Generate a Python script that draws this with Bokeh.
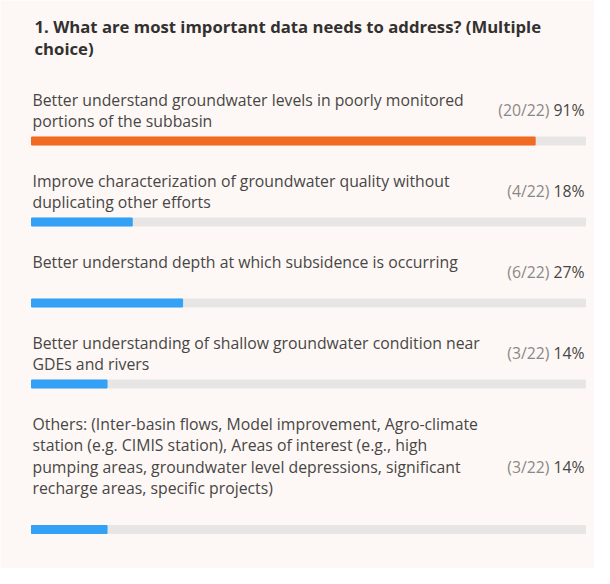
from bokeh.plotting import figure
from bokeh.models import Range1d, ColumnDataSource
from bokeh.core.properties import value
from bokeh.embed import file_html
from bokeh.resources import INLINE

# ---------------- data ----------------
title_lines = ["1. What are most important data needs to address? (Multiple", "choice)"]
labels = [
    "Better understand groundwater levels in poorly monitored\nportions of the subbasin",
    "Improve characterization of groundwater quality without\nduplicating other efforts",
    "Better understand depth at which subsidence is occurring",
    "Better understanding of shallow groundwater condition near\nGDEs and rivers",
    "Others: (Inter-basin flows, Model improvement, Agro-climate\nstation (e.g. CIMIS station), Areas of interest (e.g., high\npumping areas, groundwater level depressions, significant\nrecharge areas, specific projects)",
]
counts = [20, 4, 6, 3, 3]
total = 22
block_lines = [2, 2, 2, 2, 5]

# ---------------- style / layout ----------------
W, H = 594, 568
PANEL = "#fdf8f6"
TRACK = "#e8e6e5"
ORANGE = "#f26b22"
BLUE = "#33a1f5"
DARK = "#323130"
TEXT = "#484644"
GRAY = "#8a8886"
FONT = "Open Sans"

OFF = 8                     # page margin
TRACK_L, TRACK_R = 39, 593  # page px
px_per = (TRACK_R - TRACK_L) / 100.0
x0 = -(TRACK_L - OFF) / px_per
x1 = x0 + W / px_per

def X(page_x):
    return (page_x - TRACK_L) / px_per

def Y(page_y):
    return page_y - OFF

p = figure(width=W, height=H, x_range=Range1d(x0, x1), y_range=Range1d(H, 0),
           toolbar_location=None, output_backend="svg", min_border=0)
p.axis.visible = False
p.grid.visible = False
p.outline_line_color = None
p.background_fill_color = PANEL
p.border_fill_color = PANEL

# title
LINE_T = 22.5
p.text(x=[X(42)] * len(title_lines), y=[Y(33.5) + i * LINE_T for i in range(len(title_lines))],
       text=title_lines, text_font=value(FONT), text_font_style="bold",
       text_font_size="16.7px", text_color=DARK, text_baseline="middle", text_align="left")

# rows
LH = 21.5
FS = "15.8px"
first = 107.0
lx, ly, lt = [], [], []
bar_y, cnt_y, cnt_t, pct_t, shares, colors = [], [], [], [], [], []
for i, (lab, c, nb) in enumerate(zip(labels, counts, block_lines)):
    lines = lab.split("\n")
    for j, ln in enumerate(lines):
        lx.append(X(40)); ly.append(Y(first + j * LH)); lt.append(ln)
    cnt_y.append(Y(first + (nb - 1) / 2 * LH))
    cnt_t.append(f"({c}/{total})")
    pct_t.append(f"{round(c / total * 100)}%")
    b = first + nb * LH - 1.5
    bar_y.append(Y(b))
    shares.append(c / total * 100)
    colors.append(ORANGE if i == 0 else BLUE)
    first = b + 39.5

p.text(x=lx, y=ly, text=lt, text_font=value(FONT), text_font_size=FS,
       text_color=TEXT, text_baseline="middle", text_align="left")

src = ColumnDataSource(dict(y=bar_y, share=shares, color=colors, cy=cnt_y, ct=cnt_t, pt=pct_t,
                            zero=[0] * len(counts), full=[100] * len(counts)))
p.hbar(y="y", left="zero", right="full", height=8, color=TRACK, source=src)
p.hbar(y="y", left="zero", right="share", height=8, color="color", source=src)

p.text(x=X(557), y="cy", text="ct", source=src, text_font=value(FONT), text_font_size=FS,
       text_color=GRAY, text_baseline="middle", text_align="right")
p.text(x=X(561), y="cy", text="pt", source=src, text_font=value(FONT), text_font_size=FS,
       text_color=TEXT, text_baseline="middle", text_align="left")

open("out.html", "w").write(file_html(p, INLINE))
